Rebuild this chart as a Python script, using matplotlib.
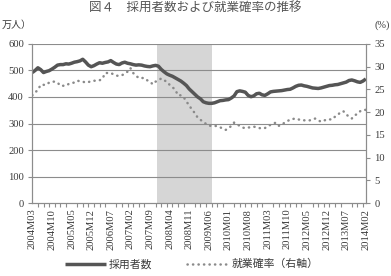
import numpy as np
import matplotlib
matplotlib.use('Agg')
import matplotlib.pyplot as plt

plt.rcParams['font.family'] = ['Liberation Serif', 'Noto Sans CJK JP', 'DejaVu Sans']

# months 2004M03 .. 2014M02
months = []
for y in range(2004, 2015):
    for m in range(1, 13):
        if (y, m) >= (2004, 3) and (y, m) <= (2014, 2):
            months.append('%dM%02d' % (y, m))

# 採用者数 (万人)
hires = [492, 500, 510, 503, 492, 496, 499, 505, 512, 520, 522, 522,
         525, 524, 527, 531, 533, 536, 542, 532, 520, 514, 518, 524,
         529, 527, 530, 532, 537, 530, 524, 522, 528, 531, 527, 525,
         522, 520, 521, 520, 517, 515, 514, 517, 519, 516, 504, 495,
         487, 482, 478, 472, 466, 460, 452, 443, 430, 420, 410, 400,
         393, 382, 378, 376, 376, 378, 382, 386, 387, 389, 390, 396,
         404, 420, 423, 421, 418, 406, 401, 404, 412, 414, 408, 406,
         412, 419, 421, 422, 423, 424, 426, 428, 429, 434, 440, 444,
         445, 442, 440, 437, 434, 433, 432, 434, 437, 440, 443, 444,
         446, 447, 450, 453, 456, 462, 464, 461, 457, 455, 460, 468]

# 就業確率 (%)
rate = [23.7, 24.3, 24.9, 26.0, 26.0, 26.0, 26.5, 26.7, 26.7, 26.5, 25.8, 25.8,
        25.8, 26.2, 26.4, 26.5, 26.9, 26.8, 26.7, 26.5, 26.6, 26.8, 26.9, 26.9,
        27.0, 27.3, 28.6, 28.6, 28.6, 28.3, 28.0, 28.0, 28.1, 28.5, 28.9, 29.7,
        28.6, 28.0, 27.5, 27.5, 27.5, 27.0, 26.7, 26.1, 26.7, 27.0, 27.4, 27.0,
        26.7, 26.0, 25.5, 24.9, 23.7, 23.7, 23.3, 22.3, 21.5, 20.5, 19.8, 18.8,
        18.3, 17.9, 17.4, 17.0, 17.0, 17.0, 16.9, 16.7, 16.3, 16.1, 16.4, 17.0,
        17.7, 17.3, 17.0, 16.6, 16.5, 16.6, 16.7, 16.8, 16.7, 16.5, 16.4, 16.5,
        16.9, 17.2, 17.5, 17.7, 17.0, 17.2, 17.7, 18.0, 18.4, 18.5, 18.6, 18.4,
        18.2, 18.2, 18.2, 18.2, 18.4, 18.6, 18.2, 17.9, 18.1, 18.4, 18.4, 18.4,
        19.0, 19.4, 20.0, 20.2, 19.5, 19.0, 18.6, 19.3, 19.6, 20.2, 20.5, 20.5]

recession = ('2007M12', '2009M06')

x = np.arange(len(months))
grey = '#8c8c8c'
txt = '#3a3a3a'

fig = plt.figure(figsize=(3.91, 2.76), dpi=100)
ax = fig.add_axes([0.0826, 0.264, 0.853, 0.577])
ax2 = ax.twinx()

ax.axvspan(months.index(recession[0]) - 0.6, months.index(recession[1]) + 1.2,
           color='#d6d6d6', lw=0, zorder=0)
for v in range(100, 700, 100):
    ax.axhline(v, color=grey, lw=0.8, zorder=1)

l1, = ax.plot(x, hires, color='#555555', lw=2.5, zorder=3,
              solid_capstyle='butt', label='採用者数')
l2, = ax2.plot(x, rate, color='#8a8a8a', lw=1.8, zorder=3,
               linestyle=(0, (0.1, 2.1)), dash_capstyle='round',
               label='就業確率（右軸）')

ax.set_xlim(0, len(months) - 1)
ax.set_ylim(0, 600)
ax2.set_ylim(0, 35)
ax.set_yticks(range(0, 700, 100))
ax2.set_yticks(range(0, 40, 5))
ax.set_xticks(x[::7])
ax.set_xticklabels(months[::7], rotation=90, fontsize=7.6, color=txt)
ax.set_xticks(x[::2], minor=True)
ax.tick_params(axis='x', which='major', length=0, pad=4)
ax.tick_params(axis='x', which='minor', length=3, color=grey, width=0.8)
ax.tick_params(axis='y', length=3, color=grey, width=0.8, labelsize=7.6,
               labelcolor=txt, pad=3)
ax2.tick_params(axis='y', length=3, color=grey, width=0.8, labelsize=7.6,
                labelcolor=txt, pad=3)

for a in (ax, ax2):
    for s in a.spines.values():
        s.set_color(grey)
        s.set_linewidth(0.8)
    a.spines['top'].set_visible(False)

fig.text(0.5, 0.968, '図４　採用者数および就業確率の推移', ha='center', va='center',
         fontsize=9, color='#555555')
fig.text(0.005, 0.91, '万人）', ha='left', va='center', fontsize=7.2, color=txt)
fig.text(0.998, 0.91, '(%)', ha='right', va='center', fontsize=7.5, color=txt)

fig.legend([l1, l2], ['採用者数', '就業確率（右軸）'], loc='center',
           bbox_to_anchor=(0.49, 0.043), ncol=2, frameon=False, fontsize=7.8,
           handlelength=3.8, handletextpad=0.3, columnspacing=3.2,
           labelcolor=txt)

fig.savefig('out.png', dpi=100)
